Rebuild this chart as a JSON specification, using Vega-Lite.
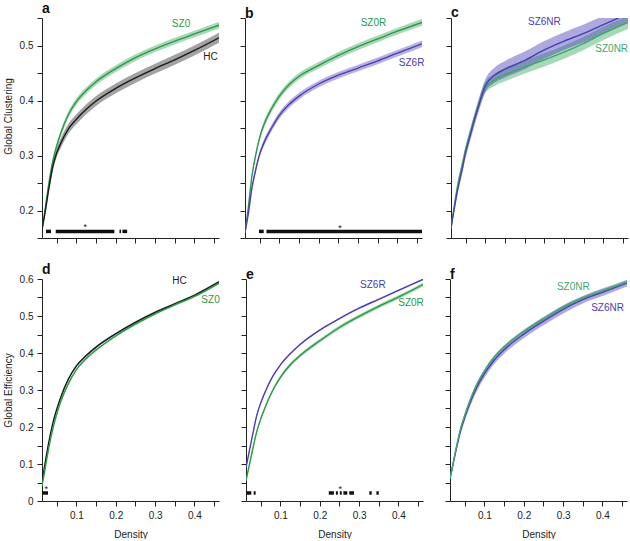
{
"$schema":"https://vega.github.io/schema/vega-lite/v6.json",
"padding":{"left":3,"top":2,"right":0,"bottom":0},
"spacing":19,
"config":{"view":{"stroke":null},"font":"Liberation Sans",
"axis":{"grid":false,"domainColor":"#222","tickColor":"#222","labelColor":"#222","titleColor":"#222","labelFontSize":10,"titleFontSize":10,"titleFontWeight":"normal","tickSize":5,"labelPadding":4,"labelFlush":false,"labelOverlap":false,"titlePadding":6},
"axisX":{"titlePadding":9},
"title":{"anchor":"start","frame":"group","fontSize":14,"fontWeight":"bold","offset":-3,"color":"#111"},
"concat":{"spacing":20}},
"datasets":{
"curves":[
{"p":"a","g":"SZ0","x":0.0125,"y":0.165,"e":0.002},{"p":"a","g":"SZ0","x":0.02,"y":0.2,"e":0.003},{"p":"a","g":"SZ0","x":0.03,"y":0.25,"e":0.004},{"p":"a","g":"SZ0","x":0.04,"y":0.29,"e":0.005},{"p":"a","g":"SZ0","x":0.05,"y":0.318,"e":0.005},{"p":"a","g":"SZ0","x":0.06,"y":0.34,"e":0.006},{"p":"a","g":"SZ0","x":0.08,"y":0.375,"e":0.006},{"p":"a","g":"SZ0","x":0.1,"y":0.398,"e":0.006},{"p":"a","g":"SZ0","x":0.125,"y":0.418,"e":0.006},{"p":"a","g":"SZ0","x":0.15,"y":0.434,"e":0.006},{"p":"a","g":"SZ0","x":0.2,"y":0.458,"e":0.006},{"p":"a","g":"SZ0","x":0.25,"y":0.478,"e":0.006},{"p":"a","g":"SZ0","x":0.3,"y":0.494,"e":0.006},{"p":"a","g":"SZ0","x":0.35,"y":0.508,"e":0.006},{"p":"a","g":"SZ0","x":0.4,"y":0.521,"e":0.006},{"p":"a","g":"SZ0","x":0.4625,"y":0.537,"e":0.006},
{"p":"a","g":"HC","x":0.0125,"y":0.165,"e":0.002},{"p":"a","g":"HC","x":0.02,"y":0.195,"e":0.004},{"p":"a","g":"HC","x":0.03,"y":0.24,"e":0.006},{"p":"a","g":"HC","x":0.04,"y":0.28,"e":0.007},{"p":"a","g":"HC","x":0.05,"y":0.305,"e":0.008},{"p":"a","g":"HC","x":0.06,"y":0.322,"e":0.009},{"p":"a","g":"HC","x":0.08,"y":0.349,"e":0.009},{"p":"a","g":"HC","x":0.1,"y":0.366,"e":0.009},{"p":"a","g":"HC","x":0.125,"y":0.384,"e":0.009},{"p":"a","g":"HC","x":0.15,"y":0.399,"e":0.009},{"p":"a","g":"HC","x":0.2,"y":0.422,"e":0.009},{"p":"a","g":"HC","x":0.25,"y":0.441,"e":0.009},{"p":"a","g":"HC","x":0.3,"y":0.458,"e":0.009},{"p":"a","g":"HC","x":0.35,"y":0.474,"e":0.009},{"p":"a","g":"HC","x":0.4,"y":0.491,"e":0.009},{"p":"a","g":"HC","x":0.4625,"y":0.514,"e":0.009},
{"p":"b","g":"SZ0R","x":0.0125,"y":0.16,"e":0.002},{"p":"b","g":"SZ0R","x":0.02,"y":0.2,"e":0.003},{"p":"b","g":"SZ0R","x":0.03,"y":0.262,"e":0.004},{"p":"b","g":"SZ0R","x":0.04,"y":0.302,"e":0.005},{"p":"b","g":"SZ0R","x":0.05,"y":0.333,"e":0.005},{"p":"b","g":"SZ0R","x":0.06,"y":0.355,"e":0.006},{"p":"b","g":"SZ0R","x":0.08,"y":0.385,"e":0.006},{"p":"b","g":"SZ0R","x":0.1,"y":0.408,"e":0.006},{"p":"b","g":"SZ0R","x":0.125,"y":0.429,"e":0.006},{"p":"b","g":"SZ0R","x":0.15,"y":0.444,"e":0.006},{"p":"b","g":"SZ0R","x":0.2,"y":0.464,"e":0.006},{"p":"b","g":"SZ0R","x":0.25,"y":0.482,"e":0.006},{"p":"b","g":"SZ0R","x":0.3,"y":0.498,"e":0.006},{"p":"b","g":"SZ0R","x":0.35,"y":0.512,"e":0.006},{"p":"b","g":"SZ0R","x":0.4,"y":0.526,"e":0.006},{"p":"b","g":"SZ0R","x":0.4625,"y":0.542,"e":0.006},
{"p":"b","g":"SZ6R","x":0.0125,"y":0.16,"e":0.002},{"p":"b","g":"SZ6R","x":0.02,"y":0.19,"e":0.003},{"p":"b","g":"SZ6R","x":0.03,"y":0.24,"e":0.004},{"p":"b","g":"SZ6R","x":0.04,"y":0.275,"e":0.005},{"p":"b","g":"SZ6R","x":0.05,"y":0.303,"e":0.005},{"p":"b","g":"SZ6R","x":0.06,"y":0.322,"e":0.006},{"p":"b","g":"SZ6R","x":0.08,"y":0.35,"e":0.006},{"p":"b","g":"SZ6R","x":0.1,"y":0.373,"e":0.006},{"p":"b","g":"SZ6R","x":0.125,"y":0.393,"e":0.006},{"p":"b","g":"SZ6R","x":0.15,"y":0.408,"e":0.006},{"p":"b","g":"SZ6R","x":0.2,"y":0.43,"e":0.006},{"p":"b","g":"SZ6R","x":0.25,"y":0.446,"e":0.006},{"p":"b","g":"SZ6R","x":0.3,"y":0.459,"e":0.006},{"p":"b","g":"SZ6R","x":0.35,"y":0.472,"e":0.006},{"p":"b","g":"SZ6R","x":0.4,"y":0.486,"e":0.006},{"p":"b","g":"SZ6R","x":0.4625,"y":0.503,"e":0.006},
{"p":"c","g":"SZ0NR","x":0.0125,"y":0.168,"e":0.003},{"p":"c","g":"SZ0NR","x":0.02,"y":0.205,"e":0.004},{"p":"c","g":"SZ0NR","x":0.03,"y":0.248,"e":0.006},{"p":"c","g":"SZ0NR","x":0.04,"y":0.28,"e":0.007},{"p":"c","g":"SZ0NR","x":0.05,"y":0.312,"e":0.008},{"p":"c","g":"SZ0NR","x":0.06,"y":0.338,"e":0.008},{"p":"c","g":"SZ0NR","x":0.08,"y":0.386,"e":0.009},{"p":"c","g":"SZ0NR","x":0.1,"y":0.424,"e":0.01},{"p":"c","g":"SZ0NR","x":0.125,"y":0.438,"e":0.011},{"p":"c","g":"SZ0NR","x":0.15,"y":0.447,"e":0.012},{"p":"c","g":"SZ0NR","x":0.2,"y":0.461,"e":0.012},{"p":"c","g":"SZ0NR","x":0.25,"y":0.474,"e":0.012},{"p":"c","g":"SZ0NR","x":0.3,"y":0.488,"e":0.012},{"p":"c","g":"SZ0NR","x":0.35,"y":0.504,"e":0.012},{"p":"c","g":"SZ0NR","x":0.4,"y":0.522,"e":0.012},{"p":"c","g":"SZ0NR","x":0.4625,"y":0.542,"e":0.012},
{"p":"c","g":"SZ6NR","x":0.0125,"y":0.168,"e":0.003},{"p":"c","g":"SZ6NR","x":0.02,"y":0.2,"e":0.005},{"p":"c","g":"SZ6NR","x":0.03,"y":0.24,"e":0.007},{"p":"c","g":"SZ6NR","x":0.04,"y":0.272,"e":0.008},{"p":"c","g":"SZ6NR","x":0.05,"y":0.306,"e":0.009},{"p":"c","g":"SZ6NR","x":0.06,"y":0.333,"e":0.01},{"p":"c","g":"SZ6NR","x":0.08,"y":0.384,"e":0.011},{"p":"c","g":"SZ6NR","x":0.1,"y":0.427,"e":0.012},{"p":"c","g":"SZ6NR","x":0.125,"y":0.447,"e":0.014},{"p":"c","g":"SZ6NR","x":0.15,"y":0.457,"e":0.015},{"p":"c","g":"SZ6NR","x":0.2,"y":0.473,"e":0.016},{"p":"c","g":"SZ6NR","x":0.25,"y":0.492,"e":0.016},{"p":"c","g":"SZ6NR","x":0.3,"y":0.508,"e":0.016},{"p":"c","g":"SZ6NR","x":0.35,"y":0.522,"e":0.016},{"p":"c","g":"SZ6NR","x":0.4,"y":0.538,"e":0.016},{"p":"c","g":"SZ6NR","x":0.4625,"y":0.558,"e":0.016},
{"p":"d","g":"HC","x":0.0125,"y":0.05,"e":0.003},{"p":"d","g":"HC","x":0.02,"y":0.1,"e":0.003},{"p":"d","g":"HC","x":0.03,"y":0.16,"e":0.003},{"p":"d","g":"HC","x":0.04,"y":0.21,"e":0.003},{"p":"d","g":"HC","x":0.05,"y":0.248,"e":0.003},{"p":"d","g":"HC","x":0.06,"y":0.28,"e":0.003},{"p":"d","g":"HC","x":0.08,"y":0.33,"e":0.003},{"p":"d","g":"HC","x":0.1,"y":0.365,"e":0.003},{"p":"d","g":"HC","x":0.125,"y":0.393,"e":0.003},{"p":"d","g":"HC","x":0.15,"y":0.416,"e":0.003},{"p":"d","g":"HC","x":0.2,"y":0.452,"e":0.003},{"p":"d","g":"HC","x":0.25,"y":0.483,"e":0.003},{"p":"d","g":"HC","x":0.3,"y":0.51,"e":0.003},{"p":"d","g":"HC","x":0.35,"y":0.533,"e":0.003},{"p":"d","g":"HC","x":0.4,"y":0.556,"e":0.003},{"p":"d","g":"HC","x":0.4625,"y":0.592,"e":0.003},
{"p":"d","g":"SZ0","x":0.0125,"y":0.04,"e":0.003},{"p":"d","g":"SZ0","x":0.02,"y":0.085,"e":0.003},{"p":"d","g":"SZ0","x":0.03,"y":0.145,"e":0.003},{"p":"d","g":"SZ0","x":0.04,"y":0.195,"e":0.003},{"p":"d","g":"SZ0","x":0.05,"y":0.235,"e":0.003},{"p":"d","g":"SZ0","x":0.06,"y":0.268,"e":0.003},{"p":"d","g":"SZ0","x":0.08,"y":0.318,"e":0.003},{"p":"d","g":"SZ0","x":0.1,"y":0.355,"e":0.003},{"p":"d","g":"SZ0","x":0.125,"y":0.385,"e":0.003},{"p":"d","g":"SZ0","x":0.15,"y":0.408,"e":0.003},{"p":"d","g":"SZ0","x":0.2,"y":0.446,"e":0.003},{"p":"d","g":"SZ0","x":0.25,"y":0.478,"e":0.003},{"p":"d","g":"SZ0","x":0.3,"y":0.506,"e":0.003},{"p":"d","g":"SZ0","x":0.35,"y":0.53,"e":0.003},{"p":"d","g":"SZ0","x":0.4,"y":0.553,"e":0.003},{"p":"d","g":"SZ0","x":0.4625,"y":0.589,"e":0.003},
{"p":"e","g":"SZ6R","x":0.0125,"y":0.09,"e":0.002},{"p":"e","g":"SZ6R","x":0.02,"y":0.13,"e":0.002},{"p":"e","g":"SZ6R","x":0.03,"y":0.182,"e":0.002},{"p":"e","g":"SZ6R","x":0.04,"y":0.232,"e":0.002},{"p":"e","g":"SZ6R","x":0.05,"y":0.265,"e":0.002},{"p":"e","g":"SZ6R","x":0.06,"y":0.292,"e":0.002},{"p":"e","g":"SZ6R","x":0.08,"y":0.336,"e":0.002},{"p":"e","g":"SZ6R","x":0.1,"y":0.368,"e":0.002},{"p":"e","g":"SZ6R","x":0.125,"y":0.398,"e":0.002},{"p":"e","g":"SZ6R","x":0.15,"y":0.423,"e":0.002},{"p":"e","g":"SZ6R","x":0.2,"y":0.462,"e":0.002},{"p":"e","g":"SZ6R","x":0.25,"y":0.493,"e":0.002},{"p":"e","g":"SZ6R","x":0.3,"y":0.521,"e":0.002},{"p":"e","g":"SZ6R","x":0.35,"y":0.545,"e":0.002},{"p":"e","g":"SZ6R","x":0.4,"y":0.569,"e":0.002},{"p":"e","g":"SZ6R","x":0.4625,"y":0.599,"e":0.002},
{"p":"e","g":"SZ0R","x":0.0125,"y":0.055,"e":0.005},{"p":"e","g":"SZ0R","x":0.02,"y":0.092,"e":0.005},{"p":"e","g":"SZ0R","x":0.03,"y":0.142,"e":0.005},{"p":"e","g":"SZ0R","x":0.04,"y":0.188,"e":0.005},{"p":"e","g":"SZ0R","x":0.05,"y":0.222,"e":0.005},{"p":"e","g":"SZ0R","x":0.06,"y":0.25,"e":0.005},{"p":"e","g":"SZ0R","x":0.08,"y":0.298,"e":0.005},{"p":"e","g":"SZ0R","x":0.1,"y":0.334,"e":0.005},{"p":"e","g":"SZ0R","x":0.125,"y":0.368,"e":0.005},{"p":"e","g":"SZ0R","x":0.15,"y":0.393,"e":0.005},{"p":"e","g":"SZ0R","x":0.2,"y":0.433,"e":0.005},{"p":"e","g":"SZ0R","x":0.25,"y":0.469,"e":0.005},{"p":"e","g":"SZ0R","x":0.3,"y":0.499,"e":0.005},{"p":"e","g":"SZ0R","x":0.35,"y":0.526,"e":0.005},{"p":"e","g":"SZ0R","x":0.4,"y":0.551,"e":0.005},{"p":"e","g":"SZ0R","x":0.4625,"y":0.585,"e":0.005},
{"p":"f","g":"SZ6NR","x":0.0125,"y":0.06,"e":0.004},{"p":"f","g":"SZ6NR","x":0.02,"y":0.098,"e":0.005},{"p":"f","g":"SZ6NR","x":0.03,"y":0.148,"e":0.007},{"p":"f","g":"SZ6NR","x":0.04,"y":0.192,"e":0.009},{"p":"f","g":"SZ6NR","x":0.05,"y":0.226,"e":0.01},{"p":"f","g":"SZ6NR","x":0.06,"y":0.256,"e":0.011},{"p":"f","g":"SZ6NR","x":0.08,"y":0.306,"e":0.011},{"p":"f","g":"SZ6NR","x":0.1,"y":0.344,"e":0.011},{"p":"f","g":"SZ6NR","x":0.125,"y":0.381,"e":0.011},{"p":"f","g":"SZ6NR","x":0.15,"y":0.409,"e":0.011},{"p":"f","g":"SZ6NR","x":0.2,"y":0.451,"e":0.011},{"p":"f","g":"SZ6NR","x":0.25,"y":0.486,"e":0.011},{"p":"f","g":"SZ6NR","x":0.3,"y":0.518,"e":0.011},{"p":"f","g":"SZ6NR","x":0.35,"y":0.544,"e":0.01},{"p":"f","g":"SZ6NR","x":0.4,"y":0.564,"e":0.01},{"p":"f","g":"SZ6NR","x":0.4625,"y":0.589,"e":0.009},
{"p":"f","g":"SZ0NR","x":0.0125,"y":0.06,"e":0.003},{"p":"f","g":"SZ0NR","x":0.02,"y":0.1,"e":0.004},{"p":"f","g":"SZ0NR","x":0.03,"y":0.152,"e":0.004},{"p":"f","g":"SZ0NR","x":0.04,"y":0.198,"e":0.004},{"p":"f","g":"SZ0NR","x":0.05,"y":0.232,"e":0.004},{"p":"f","g":"SZ0NR","x":0.06,"y":0.262,"e":0.004},{"p":"f","g":"SZ0NR","x":0.08,"y":0.314,"e":0.004},{"p":"f","g":"SZ0NR","x":0.1,"y":0.352,"e":0.004},{"p":"f","g":"SZ0NR","x":0.125,"y":0.389,"e":0.004},{"p":"f","g":"SZ0NR","x":0.15,"y":0.416,"e":0.004},{"p":"f","g":"SZ0NR","x":0.2,"y":0.458,"e":0.004},{"p":"f","g":"SZ0NR","x":0.25,"y":0.492,"e":0.004},{"p":"f","g":"SZ0NR","x":0.3,"y":0.524,"e":0.004},{"p":"f","g":"SZ0NR","x":0.35,"y":0.549,"e":0.004},{"p":"f","g":"SZ0NR","x":0.4,"y":0.568,"e":0.004},{"p":"f","g":"SZ0NR","x":0.4625,"y":0.592,"e":0.004}
],
"labels":[
{"p":"a","g":"SZ0","x":0.366,"y":0.539},{"p":"a","g":"HC","x":0.441,"y":0.479},
{"p":"b","g":"SZ0R","x":0.339,"y":0.541},{"p":"b","g":"SZ6R","x":0.436,"y":0.468},
{"p":"c","g":"SZ6NR","x":0.25,"y":0.542},{"p":"c","g":"SZ0NR","x":0.421,"y":0.4936},
{"p":"d","g":"HC","x":0.362,"y":0.595},{"p":"d","g":"SZ0","x":0.441,"y":0.543},
{"p":"e","g":"SZ6R","x":0.335,"y":0.584},{"p":"e","g":"SZ0R","x":0.432,"y":0.536},
{"p":"f","g":"SZ0NR","x":0.326,"y":0.579},{"p":"f","g":"SZ6NR","x":0.413,"y":0.522}
],
"sig":[
{"p":"a","x":0.0227,"x2":0.0354,"y":0.162},{"p":"a","x":0.0474,"x2":0.1965,"y":0.162},{"p":"a","x":0.2095,"x2":0.2135,"y":0.162},{"p":"a","x":0.217,"x2":0.229,"y":0.162},
{"p":"b","x":0.048,"x2":0.06,"y":0.162},{"p":"b","x":0.067,"x2":0.4625,"y":0.162},
{"p":"d","x":0.0128,"x2":0.0278,"y":0.0217},
{"p":"e","x":0.014,"x2":0.026,"y":0.0217},{"p":"e","x":0.032,"x2":0.037,"y":0.0217},{"p":"e","x":0.223,"x2":0.236,"y":0.0217},{"p":"e","x":0.241,"x2":0.246,"y":0.0217},{"p":"e","x":0.251,"x2":0.256,"y":0.0217},{"p":"e","x":0.26,"x2":0.27,"y":0.0217},{"p":"e","x":0.275,"x2":0.287,"y":0.0217},{"p":"e","x":0.326,"x2":0.332,"y":0.0217},{"p":"e","x":0.344,"x2":0.35,"y":0.0217}
],
"stars":[
{"p":"a","x":0.1227,"y":0.173},{"p":"b","x":0.254,"y":0.172},{"p":"d","x":0.023,"y":0.038},{"p":"e","x":0.252,"y":0.038}
]
},
"vconcat":[
{"hconcat":[
{"width":177,"height":220,"title":{"text":"a"},
"encoding":{"x":{"field":"x","type":"quantitative","scale":{"domain":[0.0125,0.4625],"nice":false,"zero":false},"axis":{"values":[0.05,0.1,0.15,0.2,0.25,0.3,0.35,0.4,0.45],"labels":false,"title":null}},
"y":{"field":"y","type":"quantitative","scale":{"domain":[0.15,0.55],"nice":false,"zero":false},"axis":{"values":[0.15,0.2,0.25,0.3,0.35,0.4,0.45,0.5,0.55],"labelExpr":"datum.value == 0 ? '0' : (round(datum.value*100) % 10 == 0 ? format(datum.value, '.1f') : '')","title":"Global Clustering","titleY":98}}},
"layer":[
{"data":{"name":"curves"},"transform":[{"filter":"datum.p=='a'"}],"mark":{"type":"errorband","interpolate":"monotone","clip":true,"band":{"opacity":0.4}},"encoding":{"yError":{"field":"e"},"color":{"field":"g","type":"nominal","scale":{"domain":["HC","SZ0","SZ0R","SZ6R","SZ0NR","SZ6NR"],"range":["#1a1a1a","#2a9a48","#2a9a48","#4a3db5","#3fa866","#4a3db5"]},"legend":null}}},
{"data":{"name":"curves"},"transform":[{"filter":"datum.p=='a'"}],"mark":{"type":"line","interpolate":"monotone","clip":true,"strokeWidth":1.4},"encoding":{"color":{"field":"g","type":"nominal","legend":null}}},
{"data":{"name":"labels"},"transform":[{"filter":"datum.p=='a'"}],"mark":{"type":"text","fontSize":10},"encoding":{"text":{"field":"g"},"color":{"field":"g","type":"nominal","legend":null}}},
{"data":{"name":"sig"},"transform":[{"filter":"datum.p=='a'"}],"mark":{"type":"rule","strokeWidth":3.5,"color":"#111","strokeCap":"butt"},"encoding":{"x2":{"field":"x2"}}},
{"data":{"name":"stars"},"transform":[{"filter":"datum.p=='a'"}],"mark":{"type":"text","text":"*","fontSize":9,"color":"#111","baseline":"middle","dy":2},"encoding":{}}
]},
{"width":177,"height":220,"title":{"text":"b"},
"encoding":{"x":{"field":"x","type":"quantitative","scale":{"domain":[0.0125,0.4625],"nice":false,"zero":false},"axis":{"values":[0.05,0.1,0.15,0.2,0.25,0.3,0.35,0.4,0.45],"labels":false,"title":null}},
"y":{"field":"y","type":"quantitative","scale":{"domain":[0.15,0.55],"nice":false,"zero":false},"axis":{"values":[0.15,0.2,0.25,0.3,0.35,0.4,0.45,0.5,0.55],"labels":false,"title":null}}},
"layer":[
{"data":{"name":"curves"},"transform":[{"filter":"datum.p=='b'"}],"mark":{"type":"errorband","interpolate":"monotone","clip":true,"band":{"opacity":0.4}},"encoding":{"yError":{"field":"e"},"color":{"field":"g","type":"nominal","scale":{"domain":["HC","SZ0","SZ0R","SZ6R","SZ0NR","SZ6NR"],"range":["#1a1a1a","#2a9a48","#2a9a48","#4a3db5","#3fa866","#4a3db5"]},"legend":null}}},
{"data":{"name":"curves"},"transform":[{"filter":"datum.p=='b'"}],"mark":{"type":"line","interpolate":"monotone","clip":true,"strokeWidth":1.4},"encoding":{"color":{"field":"g","type":"nominal","legend":null}}},
{"data":{"name":"labels"},"transform":[{"filter":"datum.p=='b'"}],"mark":{"type":"text","fontSize":10},"encoding":{"text":{"field":"g"},"color":{"field":"g","type":"nominal","legend":null}}},
{"data":{"name":"sig"},"transform":[{"filter":"datum.p=='b'"}],"mark":{"type":"rule","strokeWidth":3.5,"color":"#111","strokeCap":"butt"},"encoding":{"x2":{"field":"x2"}}},
{"data":{"name":"stars"},"transform":[{"filter":"datum.p=='b'"}],"mark":{"type":"text","text":"*","fontSize":9,"color":"#111","baseline":"middle","dy":2},"encoding":{}}
]},
{"width":177,"height":220,"title":{"text":"c"},
"encoding":{"x":{"field":"x","type":"quantitative","scale":{"domain":[0.0125,0.4625],"nice":false,"zero":false},"axis":{"values":[0.05,0.1,0.15,0.2,0.25,0.3,0.35,0.4,0.45],"labels":false,"title":null}},
"y":{"field":"y","type":"quantitative","scale":{"domain":[0.15,0.55],"nice":false,"zero":false},"axis":{"values":[0.15,0.2,0.25,0.3,0.35,0.4,0.45,0.5,0.55],"labels":false,"title":null}}},
"layer":[
{"data":{"name":"curves"},"transform":[{"filter":"datum.p=='c'"}],"mark":{"type":"errorband","interpolate":"monotone","clip":true,"band":{"opacity":0.45}},"encoding":{"yError":{"field":"e"},"color":{"field":"g","type":"nominal","scale":{"domain":["HC","SZ0","SZ0R","SZ6R","SZ0NR","SZ6NR"],"range":["#1a1a1a","#2a9a48","#2a9a48","#4a3db5","#3fa866","#4a3db5"]},"legend":null}}},
{"data":{"name":"curves"},"transform":[{"filter":"datum.p=='c'"}],"mark":{"type":"line","interpolate":"monotone","clip":true,"strokeWidth":1.4},"encoding":{"color":{"field":"g","type":"nominal","legend":null}}},
{"data":{"name":"labels"},"transform":[{"filter":"datum.p=='c'"}],"mark":{"type":"text","fontSize":10},"encoding":{"text":{"field":"g"},"color":{"field":"g","type":"nominal","legend":null}}}
]}
]},
{"hconcat":[
{"width":177,"height":222,"title":{"text":"d"},
"encoding":{"x":{"field":"x","type":"quantitative","scale":{"domain":[0.0125,0.4625],"nice":false,"zero":false},"axis":{"values":[0.05,0.1,0.15,0.2,0.25,0.3,0.35,0.4,0.45],"labelExpr":"round(datum.value*100) % 10 == 0 ? format(datum.value, '.1f') : ''","title":"Density"}},
"y":{"field":"y","type":"quantitative","scale":{"domain":[0,0.6],"nice":false,"zero":false},"axis":{"values":[0,0.05,0.1,0.15,0.2,0.25,0.3,0.35,0.4,0.45,0.5,0.55,0.6],"labelExpr":"datum.value == 0 ? '0' : (round(datum.value*100) % 10 == 0 ? format(datum.value, '.1f') : '')","title":"Global Efficiency"}}},
"layer":[
{"data":{"name":"curves"},"transform":[{"filter":"datum.p=='d'"}],"mark":{"type":"errorband","interpolate":"monotone","clip":true,"band":{"opacity":0.4}},"encoding":{"yError":{"field":"e"},"color":{"field":"g","type":"nominal","scale":{"domain":["HC","SZ0","SZ0R","SZ6R","SZ0NR","SZ6NR"],"range":["#1a1a1a","#2a9a48","#2a9a48","#4a3db5","#3fa866","#4a3db5"]},"legend":null}}},
{"data":{"name":"curves"},"transform":[{"filter":"datum.p=='d'"}],"mark":{"type":"line","interpolate":"monotone","clip":true,"strokeWidth":1.4},"encoding":{"color":{"field":"g","type":"nominal","legend":null}}},
{"data":{"name":"labels"},"transform":[{"filter":"datum.p=='d'"}],"mark":{"type":"text","fontSize":10},"encoding":{"text":{"field":"g"},"color":{"field":"g","type":"nominal","legend":null}}},
{"data":{"name":"sig"},"transform":[{"filter":"datum.p=='d'"}],"mark":{"type":"rule","strokeWidth":3.5,"color":"#111","strokeCap":"butt"},"encoding":{"x2":{"field":"x2"}}},
{"data":{"name":"stars"},"transform":[{"filter":"datum.p=='d'"}],"mark":{"type":"text","text":"*","fontSize":9,"color":"#111","baseline":"middle","dy":2},"encoding":{}}
]},
{"width":177,"height":222,"title":{"text":"e"},
"encoding":{"x":{"field":"x","type":"quantitative","scale":{"domain":[0.0125,0.4625],"nice":false,"zero":false},"axis":{"values":[0.05,0.1,0.15,0.2,0.25,0.3,0.35,0.4,0.45],"labelExpr":"round(datum.value*100) % 10 == 0 ? format(datum.value, '.1f') : ''","title":"Density"}},
"y":{"field":"y","type":"quantitative","scale":{"domain":[0,0.6],"nice":false,"zero":false},"axis":{"values":[0,0.05,0.1,0.15,0.2,0.25,0.3,0.35,0.4,0.45,0.5,0.55,0.6],"labels":false,"title":null}}},
"layer":[
{"data":{"name":"curves"},"transform":[{"filter":"datum.p=='e'"}],"mark":{"type":"errorband","interpolate":"monotone","clip":true,"band":{"opacity":0.4}},"encoding":{"yError":{"field":"e"},"color":{"field":"g","type":"nominal","scale":{"domain":["HC","SZ0","SZ0R","SZ6R","SZ0NR","SZ6NR"],"range":["#1a1a1a","#2a9a48","#2a9a48","#4a3db5","#3fa866","#4a3db5"]},"legend":null}}},
{"data":{"name":"curves"},"transform":[{"filter":"datum.p=='e'"}],"mark":{"type":"line","interpolate":"monotone","clip":true,"strokeWidth":1.4},"encoding":{"color":{"field":"g","type":"nominal","legend":null}}},
{"data":{"name":"labels"},"transform":[{"filter":"datum.p=='e'"}],"mark":{"type":"text","fontSize":10},"encoding":{"text":{"field":"g"},"color":{"field":"g","type":"nominal","legend":null}}},
{"data":{"name":"sig"},"transform":[{"filter":"datum.p=='e'"}],"mark":{"type":"rule","strokeWidth":3.5,"color":"#111","strokeCap":"butt"},"encoding":{"x2":{"field":"x2"}}},
{"data":{"name":"stars"},"transform":[{"filter":"datum.p=='e'"}],"mark":{"type":"text","text":"*","fontSize":9,"color":"#111","baseline":"middle","dy":2},"encoding":{}}
]},
{"width":177,"height":222,"title":{"text":"f"},
"encoding":{"x":{"field":"x","type":"quantitative","scale":{"domain":[0.0125,0.4625],"nice":false,"zero":false},"axis":{"values":[0.05,0.1,0.15,0.2,0.25,0.3,0.35,0.4,0.45],"labelExpr":"round(datum.value*100) % 10 == 0 ? format(datum.value, '.1f') : ''","title":"Density"}},
"y":{"field":"y","type":"quantitative","scale":{"domain":[0,0.6],"nice":false,"zero":false},"axis":{"values":[0,0.05,0.1,0.15,0.2,0.25,0.3,0.35,0.4,0.45,0.5,0.55,0.6],"labels":false,"title":null}}},
"layer":[
{"data":{"name":"curves"},"transform":[{"filter":"datum.p=='f'"}],"mark":{"type":"errorband","interpolate":"monotone","clip":true,"band":{"opacity":0.45}},"encoding":{"yError":{"field":"e"},"color":{"field":"g","type":"nominal","scale":{"domain":["HC","SZ0","SZ0R","SZ6R","SZ0NR","SZ6NR"],"range":["#1a1a1a","#2a9a48","#2a9a48","#4a3db5","#3fa866","#4a3db5"]},"legend":null}}},
{"data":{"name":"curves"},"transform":[{"filter":"datum.p=='f'"}],"mark":{"type":"line","interpolate":"monotone","clip":true,"strokeWidth":1.4},"encoding":{"color":{"field":"g","type":"nominal","legend":null}}},
{"data":{"name":"labels"},"transform":[{"filter":"datum.p=='f'"}],"mark":{"type":"text","fontSize":10},"encoding":{"text":{"field":"g"},"color":{"field":"g","type":"nominal","legend":null}}}
]}
]}
]
}
